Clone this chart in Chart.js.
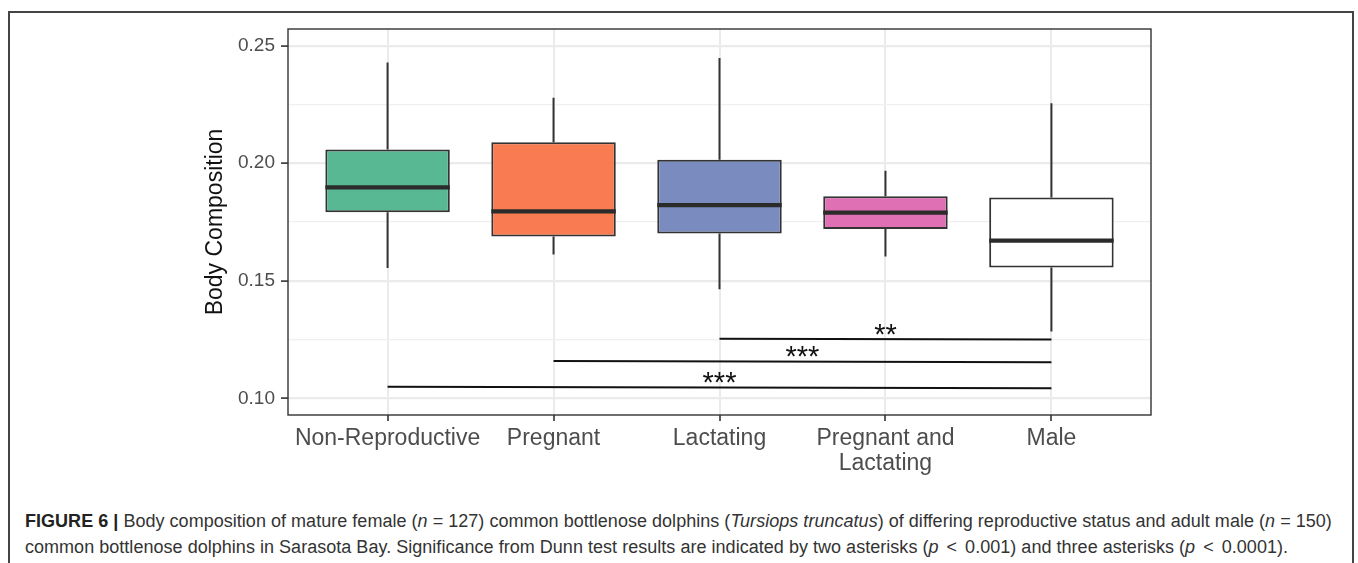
<!DOCTYPE html>
<html>
<head>
<meta charset="utf-8">
<script src="https://cdn.jsdelivr.net/npm/chart.js@4"></script>
<style>
  html, body { margin: 0; padding: 0; background: #fff; width: 1358px; height: 563px; overflow: hidden; }
  #frame { position: absolute; left: 8px; top: 11px; width: 1346px; height: 600px; border: 2px solid #444; box-sizing: border-box; }
  #wrap { position: absolute; left: 0; top: 0; width: 1358px; height: 480px; }
  #caption { position: absolute; left: 25px; top: 508px; font-family: "Liberation Sans", Arial, sans-serif; font-size: 18px; line-height: 26px; letter-spacing: 0.03px; color: #333; white-space: nowrap; }
  #caption b { color: #222; }
  #caption .lt { padding: 0 3px; }
</style>
</head>
<body>
<div id="frame"></div>
<div id="wrap"><canvas id="c" width="1358" height="480"></canvas></div>
<div id="caption"><b>FIGURE 6 |</b> Body composition of mature female (<i>n</i> = 127) common bottlenose dolphins (<i>Tursiops truncatus</i>) of differing reproductive status and adult male (<i>n</i> = 150)<br>common bottlenose dolphins in Sarasota Bay. Significance from Dunn test results are indicated by two asterisks (<i>p</i> <span class="lt">&lt;</span> 0.001) and three asterisks (<i>p</i> <span class="lt">&lt;</span> 0.0001).</div>
<script>
// ---- data ----
const categories = ['Non-Reproductive', 'Pregnant', 'Lactating', ['Pregnant and', 'Lactating'], 'Male'];
const whiskerLow  = [0.1554, 0.1612, 0.1464, 0.1603, 0.1284];
const q1          = [0.1792, 0.1688, 0.1701, 0.1720, 0.1556];
const median      = [0.1897, 0.1795, 0.1822, 0.1790, 0.1671];
const q3          = [0.2058, 0.2089, 0.2015, 0.1860, 0.1854];
const whiskerHigh = [0.2429, 0.2279, 0.2448, 0.1968, 0.2255];

// significance brackets (Dunn test)
const sigFrom   = [2, 1, 0];
const sigTo     = [4, 4, 4];
const sigYStart = [0.1253, 0.1159, 0.1049];
const sigYEnd   = [0.1250, 0.1153, 0.1043];
const sigLabels = ['**', '***', '***'];

// axis
const yMajorTicks = [0.10, 0.15, 0.20, 0.25];
const yMinorTicks = [0.125, 0.175, 0.225];
const yLimits = [0.0929, 0.2571];
const xLimits = [-0.6, 4.6];
const yTitle = 'Body Composition';

// styles
const boxColors = ['#57b893', '#f87b51', '#7a8cbf', '#df70b3', '#ffffff'];
const INK = '#333333';

const isMajor = v => yMajorTicks.some(t => Math.abs(t - v) < 1e-9);

const boxPlugin = {
  id: 'boxExtras',
  afterDatasetsDraw(chart) {
    const ctx = chart.ctx;
    const xs = chart.scales.x, ys = chart.scales.y;
    const meta = chart.getDatasetMeta(0);
    ctx.save();
    // whiskers
    ctx.strokeStyle = INK;
    ctx.lineWidth = 2;
    categories.forEach((c, i) => {
      const x = xs.getPixelForValue(i);
      ctx.beginPath();
      ctx.moveTo(x, ys.getPixelForValue(q3[i]));
      ctx.lineTo(x, ys.getPixelForValue(whiskerHigh[i]));
      ctx.moveTo(x, ys.getPixelForValue(q1[i]));
      ctx.lineTo(x, ys.getPixelForValue(whiskerLow[i]));
      ctx.stroke();
    });
    // medians
    ctx.lineWidth = 4.2;
    ctx.strokeStyle = '#2b2b2b';
    meta.data.forEach((el, i) => {
      const p = el.getProps(['x', 'width'], true);
      const y = ys.getPixelForValue(median[i]);
      ctx.beginPath();
      ctx.moveTo(p.x - p.width / 2, y);
      ctx.lineTo(p.x + p.width / 2, y);
      ctx.stroke();
    });
    // significance lines + asterisks
    ctx.strokeStyle = '#111';
    ctx.fillStyle = '#111';
    ctx.lineWidth = 2;
    ctx.font = '29px "Liberation Sans", Arial, sans-serif';
    ctx.textAlign = 'center';
    ctx.textBaseline = 'alphabetic';
    sigFrom.forEach((f, k) => {
      const x1 = xs.getPixelForValue(f), x2 = xs.getPixelForValue(sigTo[k]);
      const y1 = ys.getPixelForValue(sigYStart[k]), y2 = ys.getPixelForValue(sigYEnd[k]);
      ctx.beginPath();
      ctx.moveTo(x1, y1);
      ctx.lineTo(x2, y2);
      ctx.stroke();
      const m = ctx.measureText(sigLabels[k]);
      const yc = (y1 + y2) / 2 - 10;
      const base = yc - (m.actualBoundingBoxDescent - m.actualBoundingBoxAscent) / 2;
      ctx.fillText(sigLabels[k], (x1 + x2) / 2, base);
    });
    ctx.restore();
  },
  afterDraw(chart) {
    const a = chart.chartArea, ctx = chart.ctx;
    ctx.save();
    ctx.strokeStyle = INK;
    ctx.lineWidth = 1.4;
    ctx.strokeRect(a.left, a.top, a.right - a.left, a.bottom - a.top);
    ctx.restore();
  }
};

new Chart(document.getElementById('c'), {
  type: 'bar',
  data: {
    datasets: [{
      data: categories.map((c, i) => ({ x: i, y: [q1[i], q3[i]] })),
      backgroundColor: boxColors,
      borderColor: INK,
      borderWidth: 2,
      borderSkipped: false,
      categoryPercentage: 0.75,
      barPercentage: 1.0
    }]
  },
  options: {
    responsive: false,
    animation: false,
    devicePixelRatio: 1,
    layout: { padding: { left: 190, top: 29, right: 207, bottom: 0 } },
    plugins: { legend: { display: false }, tooltip: { enabled: false } },
    scales: {
      x: {
        type: 'linear',
        offset: false,
        min: xLimits[0], max: xLimits[1],
        afterBuildTicks: s => { s.ticks = categories.map((c, i) => ({ value: i })); },
        afterFit: s => { s.height = 65; },
        border: { display: false },
        grid: { offset: false, color: '#ebebeb', lineWidth: 2, tickColor: INK, tickLength: 6, tickWidth: 1.6 },
        ticks: {
          autoSkip: false, maxRotation: 0, minRotation: 0,
          padding: 5,
          color: '#4d4d4d',
          font: { family: '"Liberation Sans", Arial, sans-serif', size: 23, lineHeight: 1.09 },
          callback: v => categories[Math.round(v)]
        }
      },
      y: {
        min: yLimits[0], max: yLimits[1],
        afterBuildTicks: s => { s.ticks = [...yMajorTicks, ...yMinorTicks].sort((a, b) => a - b).map(v => ({ value: v })); },
        afterFit: s => { s.width = 98; },
        border: { display: false },
        grid: {
          color: c => isMajor(c.tick.value) ? '#ebebeb' : '#f0f0f0',
          lineWidth: c => isMajor(c.tick.value) ? 2.2 : 1.2,
          tickColor: c => isMajor(c.tick.value) ? INK : 'rgba(0,0,0,0)',
          tickLength: 7,
          tickWidth: 1.6
        },
        ticks: {
          padding: 6,
          color: '#4d4d4d',
          font: { family: '"Liberation Sans", Arial, sans-serif', size: 19 },
          callback: v => isMajor(v) ? v.toFixed(2) : ''
        },
        title: {
          display: true,
          text: yTitle,
          color: '#111',
          font: { family: '"Liberation Sans", Arial, sans-serif', size: 23 },
          padding: { top: 12, bottom: 0 }
        }
      }
    }
  },
  plugins: [boxPlugin]
});
</script>
</body>
</html>
